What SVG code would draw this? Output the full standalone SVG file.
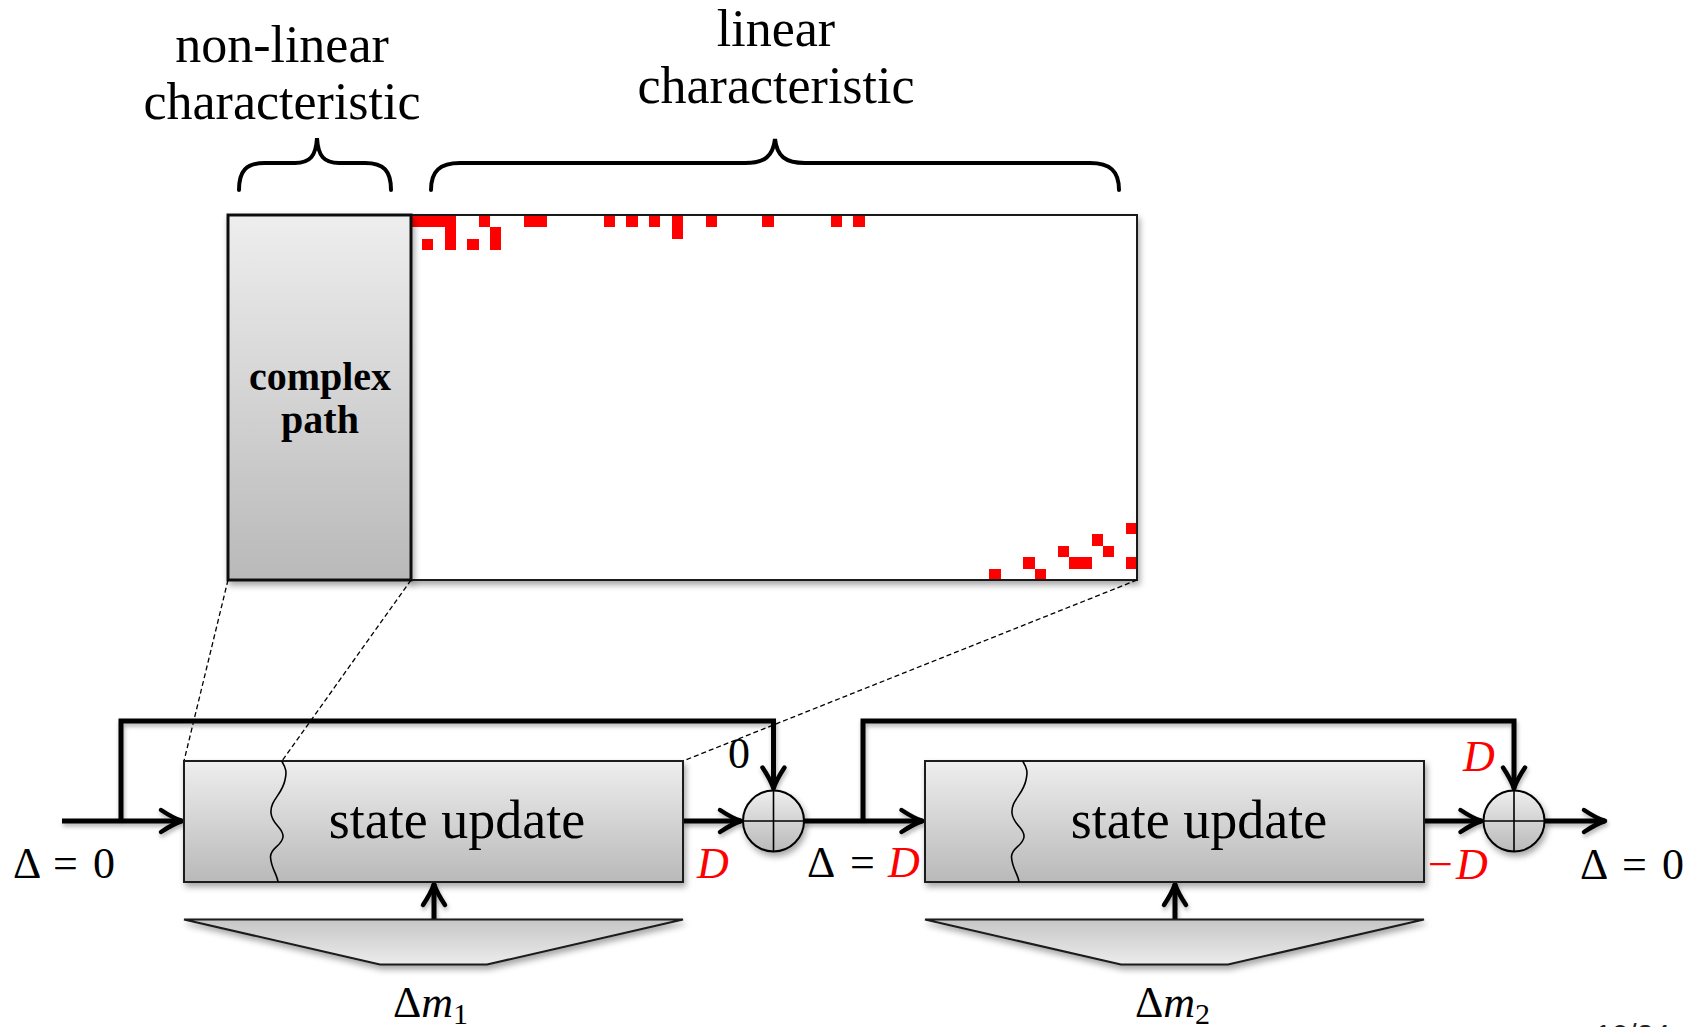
<svg xmlns="http://www.w3.org/2000/svg" width="1694" height="1027" viewBox="0 0 1694 1027">
<defs>
<style>
.hdr{font-family:"Liberation Serif","Times New Roman",serif;font-size:52px;fill:#000;text-anchor:middle}
.lbl{font-family:"Liberation Serif","Times New Roman",serif;font-size:54px;fill:#000;text-anchor:middle}
.bold{font-family:"Liberation Serif","Times New Roman",serif;font-size:40px;font-weight:bold;fill:#000;text-anchor:middle}
.math{font-family:"Liberation Serif","Times New Roman",serif;font-size:44px;fill:#000}
.red{fill:#ff0000;font-style:italic}
.it{font-style:italic}
.box{fill:url(#gBox);stroke:#1a1a1a;stroke-width:2}
.trap{fill:url(#gTrap);stroke:#1a1a1a;stroke-width:2}
.circ{fill:url(#gBox);stroke:#000;stroke-width:2}
.thin{fill:none;stroke:#000;stroke-width:1.6}
.wire{fill:none;stroke:#000;stroke-width:5;stroke-linejoin:miter}
.arr{marker-end:url(#ah)}
.dash{fill:none;stroke:#000;stroke-width:1.3;stroke-dasharray:5 3}
.brace{fill:none;stroke:#000;stroke-width:4;stroke-linecap:round}
.sq{fill:#ff0000}
</style>
<linearGradient id="gBox" x1="0" y1="0" x2="0" y2="1">
<stop offset="0" stop-color="#eeeeee"/><stop offset="1" stop-color="#b9b9b9"/>
</linearGradient>
<linearGradient id="gTrap" x1="0" y1="0" x2="0" y2="1">
<stop offset="0" stop-color="#c6c6c6"/><stop offset="1" stop-color="#ececec"/>
</linearGradient>
<filter id="sh" x="-10%" y="-10%" width="130%" height="150%">
<feDropShadow dx="2" dy="4" stdDeviation="3" flood-color="#000" flood-opacity="0.35"/>
</filter>
<filter id="shl" x="-5%" y="-20%" width="110%" height="150%">
<feDropShadow dx="1" dy="3" stdDeviation="2" flood-color="#000" flood-opacity="0.3"/>
</filter>
<marker id="ah" markerUnits="userSpaceOnUse" markerWidth="30" markerHeight="30" refX="0" refY="0" orient="auto" overflow="visible">
<path d="M-21,-11 Q-9,-3 0,0 Q-9,3 -21,11" fill="none" stroke="#000" stroke-width="4.5" stroke-linecap="round" stroke-linejoin="round"/>
</marker>
</defs>

<rect width="1694" height="1027" fill="#ffffff"/>

<!-- headers and braces -->
<g id="header-nonlinear">
<text class="hdr" x="282" y="62">non-linear</text>
<text class="hdr" x="282" y="119">characteristic</text>
<path class="brace" d="M239,190 C239,171 246,163 265,163 L295,163 C310,163 316,156 317,138 C318,156 324,163 339,163 L365,163 C384,163 391,171 391,190"/>
</g>
<g id="header-linear">
<text class="hdr" x="776" y="46">linear</text>
<text class="hdr" x="776" y="103">characteristic</text>
<path class="brace" d="M431,190 C431,171 440,163 460,163 L745,163 C765,163 773,156 775,139 C777,156 785,163 805,163 L1090,163 C1110,163 1119,171 1119,190"/>
</g>

<!-- matrix -->
<g id="matrix">
<rect x="411" y="215" width="726" height="365" fill="#ffffff" stroke="#1a1a1a" stroke-width="2" filter="url(#sh)"/>
<rect x="411" y="215" width="726" height="365" fill="#ffffff"/>
<g>
<rect class="sq" x="412" y="216" width="44" height="11"/>
<rect class="sq" x="445" y="216" width="11" height="34"/>
<rect class="sq" x="422" y="239" width="11" height="11"/>
<rect class="sq" x="467" y="239" width="12" height="11"/>
<rect class="sq" x="479" y="216" width="11" height="11"/>
<rect class="sq" x="490" y="227" width="11" height="23"/>
<rect class="sq" x="524" y="216" width="23" height="11"/>
<rect class="sq" x="604" y="216" width="11" height="11"/>
<rect class="sq" x="626" y="216" width="12" height="11"/>
<rect class="sq" x="649" y="216" width="11" height="11"/>
<rect class="sq" x="672" y="216" width="11" height="23"/>
<rect class="sq" x="706" y="216" width="11" height="11"/>
<rect class="sq" x="762" y="216" width="12" height="11"/>
<rect class="sq" x="831" y="216" width="11" height="11"/>
<rect class="sq" x="853" y="216" width="12" height="11"/>
<rect class="sq" x="989" y="569" width="12" height="11"/>
<rect class="sq" x="1023" y="557" width="12" height="12"/>
<rect class="sq" x="1035" y="569" width="11" height="11"/>
<rect class="sq" x="1058" y="546" width="11" height="11"/>
<rect class="sq" x="1069" y="557" width="23" height="12"/>
<rect class="sq" x="1092" y="534" width="11" height="12"/>
<rect class="sq" x="1103" y="546" width="11" height="11"/>
<rect class="sq" x="1126" y="523" width="11" height="11"/>
<rect class="sq" x="1126" y="557" width="11" height="12"/>
</g>
<rect x="411" y="215" width="726" height="365" fill="none" stroke="#1a1a1a" stroke-width="2"/>
</g>

<g id="complex-path">
<rect x="228" y="215" width="183" height="365" fill="url(#gBox)" stroke="#111" stroke-width="3" filter="url(#sh)"/>
<text class="bold" x="320" y="390">complex</text>
<text class="bold" x="320" y="433">path</text>
</g>

<!-- connectors -->
<g id="connectors">
<g filter="url(#shl)">
<path class="wire arr" d="M62,821 L182,821"/>
<path class="wire arr" d="M121,821 L121,721 L773.5,721 L773.5,788.5"/>
<path class="wire arr" d="M683,821 L741,821"/>
<path class="wire arr" d="M804,821 L922.5,821"/>
<path class="wire arr" d="M863,821 L863,721 L1514,721 L1514,788.5"/>
<path class="wire arr" d="M1424,821 L1481.5,821"/>
<path class="wire arr" d="M1545,821 L1605,821"/>
<path class="wire arr" d="M434,919 L434,884"/>
<path class="wire arr" d="M1175,919 L1175,884"/>
</g>
<path class="dash" d="M228,580 L184,761"/>
<path class="dash" d="M411,580 L282,761"/>
<path class="dash" d="M1137,580 L683,761"/>
</g>

<!-- stage 1 -->
<g id="state-update-1">
<rect class="box" x="184" y="761" width="499" height="121" filter="url(#sh)"/>
<path class="thin" d="M281.6,761 C286,768 287,772 285,780 C282,795 270,800 271,813 C272,825 284,828 283,837 C282,846 270,848 270.5,857 C271,868 277,874 278,882"/>
<text class="lbl" x="457" y="838">state update</text>
</g>
<g id="message-1">
<path class="trap" d="M184,919.5 L683,919.5 L487,964.5 L380,964.5 Z" filter="url(#sh)"/>
</g>
<g id="xor-1">
<circle class="circ" cx="773.5" cy="821" r="30.5" filter="url(#sh)"/>
<path class="thin" d="M773.5,790.5 L773.5,851.5 M743,821 L804,821"/>
</g>

<!-- stage 2 -->
<g id="state-update-2">
<rect class="box" x="925" y="761" width="499" height="121" filter="url(#sh)"/>
<path class="thin" transform="translate(741,0)" d="M281.6,761 C286,768 287,772 285,780 C282,795 270,800 271,813 C272,825 284,828 283,837 C282,846 270,848 270.5,857 C271,868 277,874 278,882"/>
<text class="lbl" x="1199" y="838">state update</text>
</g>
<g id="message-2">
<path class="trap" d="M925,919.5 L1424,919.5 L1228,964.5 L1121,964.5 Z" filter="url(#sh)"/>
</g>
<g id="xor-2">
<circle class="circ" cx="1514" cy="821" r="30.5" filter="url(#sh)"/>
<path class="thin" d="M1514,790.5 L1514,851.5 M1483.5,821 L1544.5,821"/>
</g>

<!-- labels -->
<g id="labels">
<text class="math" x="13" y="878">Δ</text><text class="math" x="53" y="878">=</text><text class="math" x="93" y="878">0</text>
<text class="math red" x="697" y="878">D</text>
<text class="math" x="728" y="768">0</text>
<text class="math" x="807" y="877">Δ</text><text class="math" x="850" y="877">=</text><text class="math red" x="888" y="877">D</text>
<text class="math red" x="1463" y="771">D</text>
<text class="math" x="1428" y="879" fill="#ff0000" style="fill:#ff0000">−</text><text class="math red" x="1456" y="879">D</text>
<text class="math" x="1580" y="879">Δ</text><text class="math" x="1622" y="879">=</text><text class="math" x="1662" y="879">0</text>
<text class="math" x="393" y="1017">Δ<tspan class="it">m</tspan><tspan font-size="30" dy="7">1</tspan></text>
<text class="math" x="1135" y="1017">Δ<tspan class="it">m</tspan><tspan font-size="30" dy="7">2</tspan></text>
<text x="1595" y="1045" font-family="Liberation Sans, Arial, sans-serif" font-size="30" fill="#222">10/24</text>
</g>
</svg>
